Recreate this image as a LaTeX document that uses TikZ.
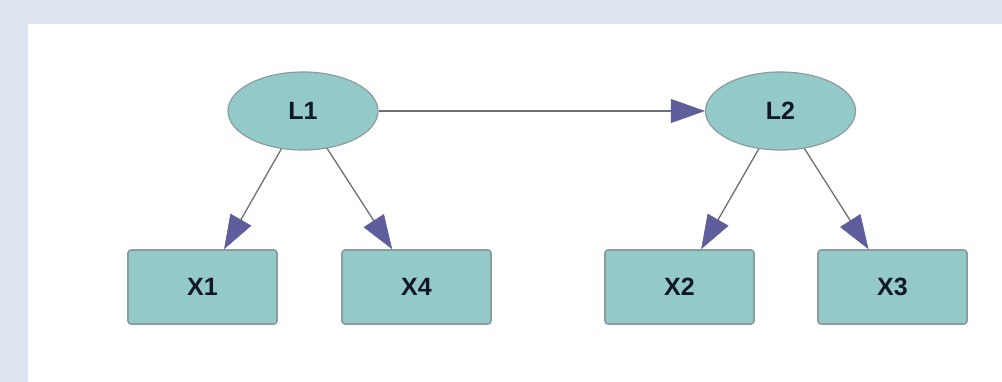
\documentclass[tikz,border=0pt]{standalone}
\usepackage{fontspec}
\setmainfont{Liberation Sans}
\usetikzlibrary{shapes.geometric,arrows.meta}
\definecolor{pagebg}{HTML}{DCE5F0}
\definecolor{nodefill}{HTML}{93C9C9}
\definecolor{nodeline}{HTML}{8A9C9E}
\definecolor{labeltext}{HTML}{101828}
\definecolor{edgeline}{HTML}{6E6E78}
\definecolor{headfill}{HTML}{5E5E9C}
\tikzset{
  latent/.style={ellipse, draw=nodeline, line width=1.2pt, fill=nodefill,
    minimum width=150pt, minimum height=78pt, inner sep=0pt,
    font=\fontsize{25}{28}\selectfont\bfseries, text=labeltext},
  observed/.style={rectangle, rounded corners=3pt, draw=nodeline, line width=1.6pt,
    fill=nodefill, minimum width=149pt, minimum height=74pt, inner sep=0pt,
    font=\fontsize{25}{28}\selectfont\bfseries, text=labeltext},
  link/.style={draw=edgeline, line width=1.3pt,
    -{Triangle[length=34pt,width=24pt,color=headfill,fill=headfill,line width=0.6pt]}}
}
\begin{document}
\begin{tikzpicture}[x=1pt,y=-1pt]
  % page frame
  \fill[pagebg] (0,0) rectangle (1002,382);
  \fill[white] (27.5,24) rectangle (1002,382);
  \useasboundingbox (0,0) rectangle (1002,382);
  % latent variables
  \node[latent] (L1) at (303,111) {L1};
  \node[latent] (L2) at (780.5,111) {L2};
  % indicators
  \node[observed] (X1) at (202.5,287) {X1};
  \node[observed] (X4) at (416.5,287) {X4};
  \node[observed] (X2) at (679.5,287) {X2};
  \node[observed] (X3) at (892.5,287) {X3};
  % paths
  \draw[link] (L1) -- (L2);
  \draw[link] (L1) -- (X1);
  \draw[link] (L1) -- (X4);
  \draw[link] (L2) -- (X2);
  \draw[link] (L2) -- (X3);
\end{tikzpicture}
\end{document}
